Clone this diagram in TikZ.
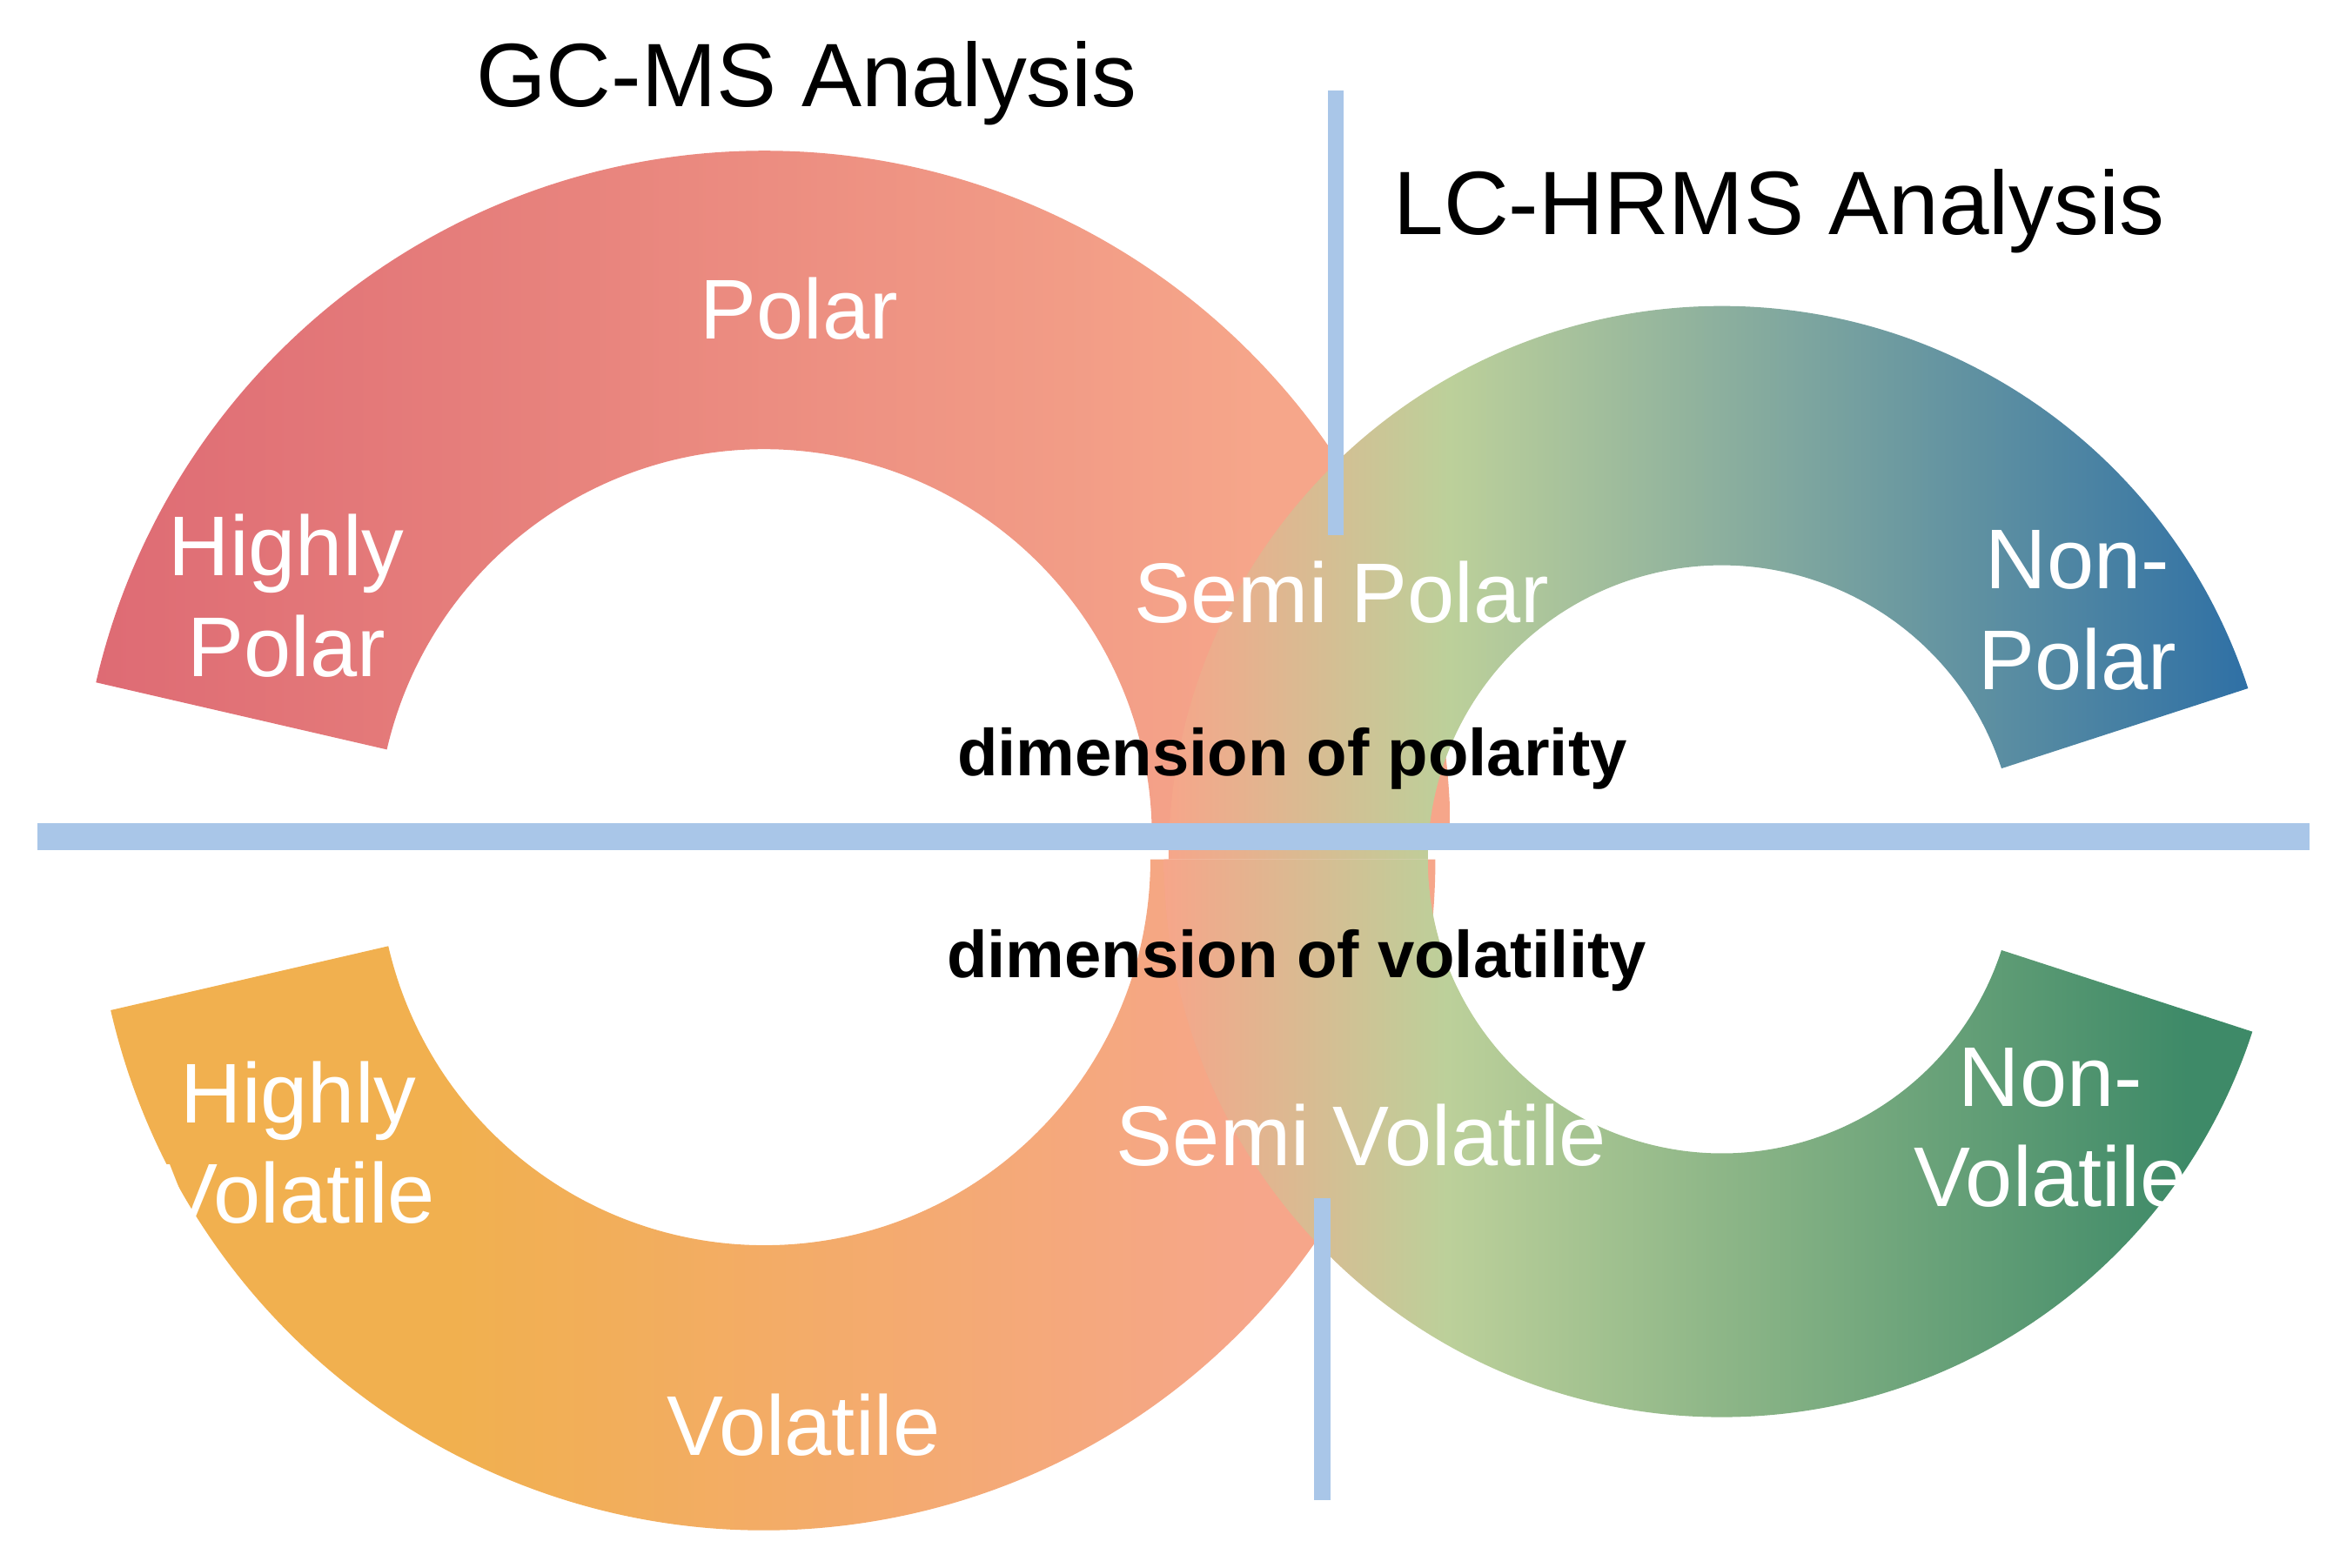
\documentclass[tikz,border=0pt]{standalone}
\usepackage{fontspec}
\setmainfont{Liberation Sans}
\definecolor{cRed}{HTML}{DE6B74}
\definecolor{cPeach}{HTML}{F6A68A}
\definecolor{cOrange}{HTML}{F1B04F}
\definecolor{cLGreen}{HTML}{BCD09A}
\definecolor{cBlue}{HTML}{2F70A5}
\definecolor{cDGreen}{HTML}{3E8A68}
\definecolor{cBar}{HTML}{A9C6E8}
\pgfdeclarehorizontalshading{shUL}{100bp}{color(0bp)=(cRed); color(25bp)=(cRed); color(68bp)=(cPeach); color(100bp)=(cPeach)}
\pgfdeclarehorizontalshading{shLL}{100bp}{color(0bp)=(cOrange); color(38bp)=(cOrange); color(68bp)=(cPeach); color(100bp)=(cPeach)}
\pgfdeclarehorizontalshading{shUR}{100bp}{color(0bp)=(cPeach); color(25bp)=(cPeach); color(38bp)=(cLGreen); color(75bp)=(cBlue); color(100bp)=(cBlue)}
\pgfdeclarehorizontalshading{shLR}{100bp}{color(0bp)=(cPeach); color(25bp)=(cPeach); color(38bp)=(cLGreen); color(72bp)=(cDGreen); color(100bp)=(cDGreen)}
\begin{document}
\begin{tikzpicture}[
  lbl/.style={text=white,font=\fontsize{16}{19}\selectfont,align=center},
  ttl/.style={text=black,font=\fontsize{17}{20}\selectfont},
  dim/.style={text=black,font=\bfseries\fontsize{12.5}{15}\selectfont},
  bar/.style={draw=cBar}]
\useasboundingbox (0,0) rectangle (15.52,10.40);
% upper left
\shade[shading=shUL] (5.07,4.85) ++(0:4.55) arc[start angle=0,end angle=167,radius=4.55]
  -- ++(-13:1.98) arc[start angle=167,end angle=0,radius=2.57] -- cycle;
% lower left
\shade[shading=shLL] (5.07,4.70) ++(193:4.45) arc[start angle=193,end angle=360,radius=4.45]
  -- ++(180:1.89) arc[start angle=360,end angle=193,radius=2.56] -- cycle;
% upper right
\shade[shading=shUR] (11.42,4.70) ++(180:3.67) arc[start angle=180,end angle=18,radius=3.67]
  -- ++(198:1.72) arc[start angle=18,end angle=180,radius=1.95] -- cycle;
% lower right
\shade[shading=shLR] (11.42,4.70) ++(180:3.70) arc[start angle=180,end angle=342,radius=3.70]
  -- ++(162:1.75) arc[start angle=342,end angle=180,radius=1.95] -- cycle;
% bars
\coordinate (h1) at (0.25,4.85); \coordinate (h2) at (15.32,4.85);
\coordinate (v1) at (8.86,9.80); \coordinate (v2) at (8.86,6.85);
\coordinate (w1) at (8.77,2.45); \coordinate (w2) at (8.77,0.45);
\draw[bar,line width=5.2pt] (h1) -- (h2);
\draw[bar,line width=3pt] (v1) -- (v2);
\draw[bar,line width=3pt] (w1) -- (w2);
% texts
\node[ttl] (t1) at (5.35,9.85) {GC-MS Analysis};
\node[ttl] (t2) at (11.80,9.00) {LC-HRMS Analysis};
\node[lbl] (p1) at (5.30,8.35) {Polar};
\node[lbl] (p2) at (1.90,6.45) {Highly\\Polar};
\node[lbl] (p3) at (8.90,6.47) {Semi Polar};
\node[lbl] (p4) at (13.78,6.35) {Non-\\Polar};
\node[dim] (d1) at (8.57,5.37) {dimension of polarity};
\node[dim] (d2) at (8.60,4.03) {dimension of volatility};
\node[lbl] (v1t) at (1.98,2.82) {Highly\\Volatile};
\node[lbl] (v2t) at (9.03,2.87) {Semi Volatile};
\node[lbl] (v3t) at (13.60,2.92) {Non-\\Volatile};
\node[lbl] (v4t) at (5.33,0.95) {Volatile};
\end{tikzpicture}
\end{document}
